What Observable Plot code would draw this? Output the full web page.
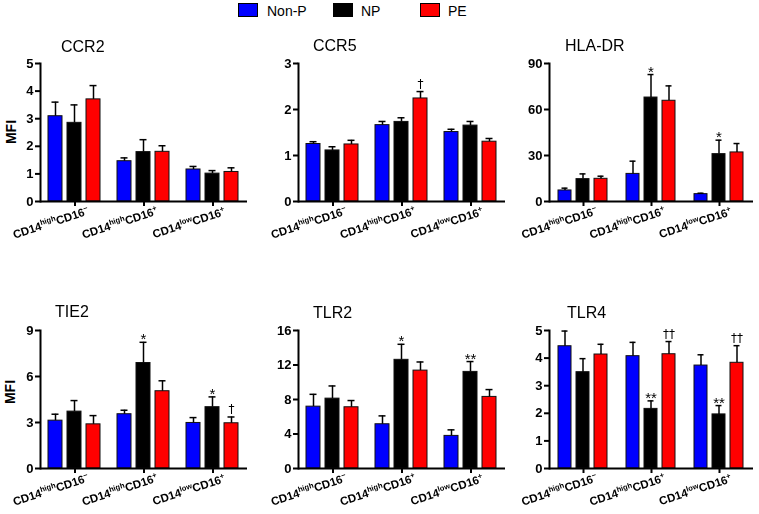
<!DOCTYPE html>
<html><head><meta charset="utf-8">
<script src="https://cdn.jsdelivr.net/npm/d3@7"></script>
<script src="https://cdn.jsdelivr.net/npm/@observablehq/plot@0.6"></script>
<style>
body{margin:0;background:#fff;}
#chart{position:relative;width:759px;height:514px;overflow:hidden;font-family:"Liberation Sans",Arial,sans-serif;background:#fff;color:#000;}
.panel{position:absolute;will-change:transform;}
.title{position:absolute;font-size:16px;line-height:16px;white-space:nowrap;}
.ylab{position:absolute;font-size:14px;font-weight:bold;line-height:14px;white-space:nowrap;transform:translate(-50%,-50%) rotate(-90deg);}
.leg-sw{position:absolute;width:20px;height:14px;box-sizing:border-box;border:1px solid #000;}
.leg-tx{position:absolute;font-size:14px;line-height:14px;white-space:nowrap;}
</style></head><body><div id="chart"></div>
<script>
// ---------- data ----------
const series = ["Non-P", "NP", "PE"];
const seriesColors = ["#0000ff", "#000000", "#ff0000"];
const groups = ["CD14highCD16-", "CD14highCD16+", "CD14lowCD16+"];
const groupLabelParts = [
  [["CD14", 0], ["high", 1], ["CD16", 0], ["\u2212", 1]],
  [["CD14", 0], ["high", 1], ["CD16", 0], ["+", 1]],
  [["CD14", 0], ["low", 1], ["CD16", 0], ["+", 1]]
];
const panelTitles = ["CCR2", "CCR5", "HLA-DR", "TIE2", "TLR2", "TLR4"];

// means [group][series] and SEM [group][series]
const ccr2Mean = [[3.09, 2.85, 3.70], [1.46, 1.79, 1.80], [1.16, 1.01, 1.07]];
const ccr2Sem  = [[0.51, 0.65, 0.50], [0.12, 0.45, 0.22], [0.11, 0.11, 0.15]];
const ccr5Mean = [[1.25, 1.11, 1.24], [1.66, 1.73, 2.24], [1.51, 1.65, 1.30]];
const ccr5Sem  = [[0.05, 0.08, 0.09], [0.08, 0.09, 0.15], [0.06, 0.09, 0.07]];
const hladrMean = [[7.2, 14.6, 14.8], [18.0, 67.8, 65.7], [4.8, 30.9, 32.0]];
const hladrSem  = [[1.5, 3.4, 1.7], [8.3, 15.0, 9.7], [0.6, 9.1, 5.8]];
const tie2Mean = [[3.12, 3.71, 2.88], [3.54, 6.88, 5.04], [2.97, 4.00, 2.95]];
const tie2Sem  = [[0.42, 0.72, 0.57], [0.26, 1.35, 0.68], [0.35, 0.67, 0.41]];
const tlr2Mean = [[7.17, 8.10, 7.10], [5.13, 12.60, 11.35], [3.78, 11.20, 8.30]];
const tlr2Sem  = [[1.43, 1.47, 0.78], [0.97, 1.80, 1.00], [0.70, 1.20, 0.85]];
const tlr4Mean = [[4.43, 3.49, 4.13], [4.07, 2.16, 4.14], [3.73, 1.96, 3.83]];
const tlr4Sem  = [[0.55, 0.49, 0.37], [0.50, 0.29, 0.46], [0.39, 0.32, 0.62]];

// y-axis ticks
const ccr2Ticks = [0, 1, 2, 3, 4, 5];
const ccr5Ticks = [0, 1, 2, 3];
const hladrTicks = [0, 30, 60, 90];
const tie2Ticks = [0, 3, 6, 9];
const tlr2Ticks = [0, 4, 8, 12, 16];
const tlr4Ticks = [0, 1, 2, 3, 4, 5];

// significance marks: [groupIndex, seriesIndex, symbol]
const ccr2Sig = [];
const ccr5Sig = [[1, 2, "\u2020"]];
const hladrSig = [[1, 1, "*"], [2, 1, "*"]];
const tie2Sig = [[1, 1, "*"], [2, 1, "*"], [2, 2, "\u2020"]];
const tlr2Sig = [[1, 1, "*"], [2, 1, "**"]];
const tlr4Sig = [[1, 1, "**"], [1, 2, "\u2020\u2020"], [2, 1, "**"], [2, 2, "\u2020\u2020"]];

const yLabel = "MFI";

// ---------- layout ----------
const colLeft = [0, 258, 509];
const colWidth = [253, 253, 250];
const rowTop = [40, 307];
const rowHeight = [230, 207];
const titlePos = [[61, 53], [313, 52], [565, 52], [55, 318], [313, 319], [567, 319]];
const yLabelPos = [[11, 132], [10, 392]];
const legendSwatchLeft = [238, 333, 420];
const legendTextLeft = [267, 361, 448];

const panels = [
  [ccr2Mean, ccr2Sem, ccr2Ticks, ccr2Sig],
  [ccr5Mean, ccr5Sem, ccr5Ticks, ccr5Sig],
  [hladrMean, hladrSem, hladrTicks, hladrSig],
  [tie2Mean, tie2Sem, tie2Ticks, tie2Sig],
  [tlr2Mean, tlr2Sem, tlr2Ticks, tlr2Sig],
  [tlr4Mean, tlr4Sem, tlr4Ticks, tlr4Sig]
];

const chart = document.getElementById("chart");

// legend
series.forEach((s, i) => {
  const sw = document.createElement("div");
  sw.className = "leg-sw";
  sw.style.left = legendSwatchLeft[i] + "px";
  sw.style.top = "3px";
  sw.style.background = seriesColors[i];
  chart.appendChild(sw);
  const tx = document.createElement("div");
  tx.className = "leg-tx";
  tx.style.left = legendTextLeft[i] + "px";
  tx.style.top = "4px";
  tx.textContent = s;
  chart.appendChild(tx);
});

// y labels
yLabelPos.forEach(([x, y]) => {
  const d = document.createElement("div");
  d.className = "ylab";
  d.style.left = x + "px";
  d.style.top = y + "px";
  d.textContent = yLabel;
  chart.appendChild(d);
});

const isDagger = d => d.sym.includes("\u2020");

panels.forEach(([means, sems, ticks, sig], p) => {
  const row = Math.floor(p / 3), col = p % 3;
  const data = [];
  groups.forEach((g, gi) => series.forEach((s, si) => {
    data.push({group: g, series: s, value: means[gi][si], top: means[gi][si] + sems[gi][si]});
  }));
  const sigData = sig.map(([gi, si, sym]) => ({
    group: groups[gi], series: series[si], top: means[gi][si] + sems[gi][si], sym
  }));
  const H = rowHeight[row];
  const svg = Plot.plot({
    width: colWidth[col],
    height: H,
    marginLeft: 40,
    marginRight: 6,
    marginTop: 23,
    marginBottom: H - 161,
    style: {fontFamily: "'Liberation Sans', Arial, sans-serif", background: "transparent", overflow: "visible", color: "#000"},
    fx: {domain: groups, padding: 0, label: null},
    x: {domain: series, paddingInner: 0.263, paddingOuter: 0.447, axis: null},
    y: {domain: [0, ticks[ticks.length - 1]], axis: null},
    color: {domain: series, range: seriesColors},
    marks: [
      Plot.barY(data, {fx: "group", x: "series", y: "value", fill: "series", stroke: "#111", strokeWidth: 1, inset: 0}),
      Plot.ruleX(data, {fx: "group", x: "series", y1: "value", y2: "top", stroke: "#000", strokeWidth: 1.5}),
      Plot.tickY(data, {fx: "group", x: "series", y: "top", stroke: "#000", strokeWidth: 1.5, insetLeft: 3.5, insetRight: 3.5}),
      Plot.text(sigData.filter(d => !isDagger(d)), {fx: "group", x: "series", y: "top", text: "sym", lineAnchor: "bottom", dy: 2, fontSize: 15, fill: "#000"}),
      Plot.text(sigData.filter(isDagger), {fx: "group", x: "series", y: "top", text: "sym", lineAnchor: "bottom", dy: -4, fontSize: 12, fill: "#000", fontFamily: "'DejaVu Sans', sans-serif"}),
      Plot.frame({anchor: "left", strokeWidth: 2, stroke: "#000", facetAnchor: "left"}),
      Plot.ruleY([0], {stroke: "#000", strokeWidth: 2}),
      Plot.axisY({ticks, tickSize: 5, tickPadding: 2, strokeWidth: 2, fontSize: 13, fontWeight: "bold", label: null, tickFormat: d => String(d)}),
      Plot.axisFx({anchor: "bottom", tickSize: 5, strokeWidth: 2, label: null, tickFormat: () => ""}),
      Plot.text(groups, {fx: d => d, text: d => d, frameAnchor: "bottom", rotate: -18, textAnchor: "middle", dx: -23, dy: 25, fontWeight: "bold", fontSize: 11.5, fill: "#000"})
    ]
  });
  svg.querySelectorAll("text").forEach(el => {
    const gi = groups.indexOf(el.textContent);
    if (gi < 0) return;
    const t = d3.select(el);
    t.text(null);
    let shift = 0;
    for (const [s, sup] of groupLabelParts[gi]) {
      const target = sup ? -4.5 : 0;
      t.append("tspan").attr("dy", target - shift).attr("font-size", sup ? 7.5 : 11.5).text(s);
      shift = target;
    }
  });
  svg.classList.add("panel");
  svg.style.left = colLeft[col] + "px";
  svg.style.top = rowTop[row] + "px";
  svg.style.position = "absolute";
  chart.appendChild(svg);

  const t = document.createElement("div");
  t.className = "title";
  t.style.left = titlePos[p][0] + "px";
  t.style.top = (titlePos[p][1] - 13.6) + "px";
  t.textContent = panelTitles[p];
  chart.appendChild(t);
});
</script></body></html>
